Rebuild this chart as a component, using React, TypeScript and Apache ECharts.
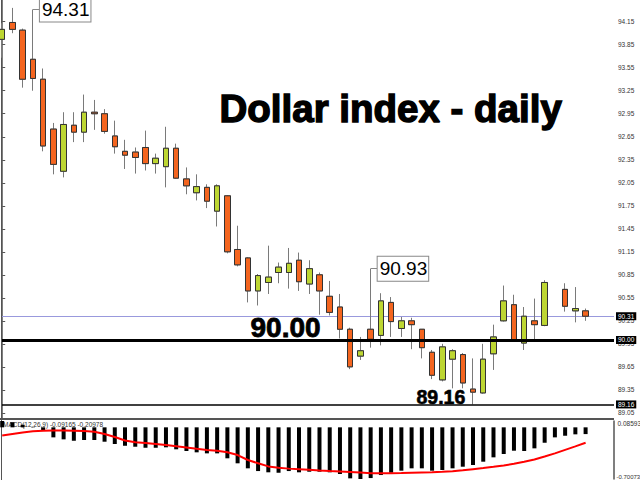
import React, { useEffect, useRef } from "react";
import * as echarts from "echarts";

// Daily candles (index = trading day slot)
const OPEN = [93.92, 94.14, 94.04, 93.66, 93.40, 92.75, 92.20, 92.80, 92.71, 92.97, 92.95, 92.66, 92.46, 92.45, 92.51, 92.30, 92.26, 92.50, 92.10, 91.92, 91.99, 91.68, 91.88, 91.18, 91.07, 90.64, 90.75, 90.88, 90.88, 91.04, 90.73, 90.85, 90.57, 90.43, 90.14, 89.79, 90.14, 90.06, 90.49, 90.15, 90.25, 90.14, 89.84, 89.48, 89.75, 89.81, 89.36, 89.31, 89.82, 90.25, 90.46, 89.96, 90.25, 90.19, null, 90.66, 90.38, 90.38];
const CLOSE = [94.05, 94.05, 93.40, 93.41, 92.53, 92.29, 92.81, 92.71, 92.97, 92.95, 92.72, 92.52, 92.41, 92.38, 92.30, 92.37, 92.50, 92.11, 92.01, 92.00, 91.81, 92.01, 91.15, 90.98, 90.64, 90.84, 90.82, 90.95, 91.00, 90.76, 90.93, 90.64, 90.36, 90.14, 89.65, 89.86, 90.01, 90.51, 90.24, 90.25, 90.20, 89.90, 89.54, 89.91, 89.86, 89.44, 89.32, 89.75, 90.04, 90.51, 90.00, 90.31, 90.20, 90.75, null, 90.44, 90.41, 90.31];
const LOW = [93.68, 94.00, 93.29, 93.25, 92.46, 92.16, 92.12, 92.58, 92.58, 92.74, 92.69, 92.43, 92.23, 92.17, 92.21, 92.17, 91.99, 92.10, 91.90, 91.82, 91.72, 91.48, 91.13, 90.96, 90.49, 90.45, 90.60, 90.74, 90.67, 90.64, 90.60, 90.33, 90.32, 90.02, 89.62, 89.74, 89.90, 89.93, 90.04, 90.04, 89.88, 89.76, 89.49, 89.46, 89.37, 89.37, 89.16, 89.30, 89.61, 90.24, 89.99, 89.87, 90.01, 90.18, null, 90.37, 90.23, 90.25];
const HIGH = [94.13, 94.33, 94.06, 94.31, 93.54, 92.83, 92.97, 92.97, 93.20, 93.13, 93.01, 92.86, 92.61, 92.51, 92.73, 92.43, 92.78, 92.56, 92.25, 92.16, 92.03, 92.03, 91.89, 91.49, 91.08, 90.86, 91.23, 91.01, 91.20, 91.14, 91.04, 90.88, 90.77, 90.60, 90.16, 90.04, 90.93, 90.61, 90.56, 90.30, 90.29, 90.14, 89.87, 89.95, 89.88, 89.83, 89.76, 89.95, 90.20, 90.71, 90.59, 90.43, 90.54, 90.78, null, 90.74, 90.69, 90.41];

// MACD(12,26,9)
const MACD_HIST = [0.08593, 0.07, 0.035, 0.004, -0.037, -0.136, -0.163, -0.182, -0.172, -0.172, -0.195, -0.226, -0.25, -0.263, -0.277, -0.277, -0.271, -0.298, -0.321, -0.339, -0.353, -0.353, -0.42, -0.488, -0.556, -0.593, -0.61, -0.616, -0.593, -0.61, -0.602, -0.602, -0.61, -0.633, -0.692, -0.70073, -0.688, -0.647, -0.616, -0.588, -0.556, -0.556, -0.588, -0.579, -0.556, -0.534, -0.511, -0.466, -0.407, -0.362, -0.317, -0.321, -0.285, -0.209, -0.136, -0.114, -0.095, -0.09165];
const MACD_SIGNAL = [-0.111, -0.091, -0.071, -0.054, -0.046, -0.043, -0.043, -0.045, -0.049, -0.06, -0.091, -0.132, -0.179, -0.202, -0.213, -0.226, -0.24, -0.256, -0.274, -0.292, -0.308, -0.317, -0.338, -0.376, -0.443, -0.488, -0.53, -0.549, -0.56, -0.568, -0.576, -0.585, -0.593, -0.599, -0.606, -0.614, -0.623, -0.624, -0.624, -0.621, -0.617, -0.613, -0.609, -0.604, -0.595, -0.583, -0.568, -0.553, -0.536, -0.517, -0.495, -0.468, -0.437, -0.396, -0.353, -0.305, -0.258, -0.20978];

// Axis ticks
const PRICE_TICKS = [89.05, 89.35, 89.65, 89.95, 90.25, 90.55, 90.85, 91.15, 91.45, 91.75, 92.05, 92.35, 92.65, 92.95, 93.25, 93.55, 93.85, 94.15, 94.45];
const MACD_TICKS = [0.08593, -0.70073];

// Levels and annotations
const BID = 90.31;
const LEVEL_SUPPORT = 90.0;
const LEVEL_LOW = 89.16;
const HIGH_MARKS = [
  { i: 3, v: 94.31 },
  { i: 36, v: 90.93 },
];
const TITLE = "Dollar index - daily";

const PRICE_MIN = 88.983;
const PRICE_MAX = 94.433;
const X_MIN = -0.02;
const X_MAX = 59.775;

const GREEN = "#bdd632";
const ORANGE = "#f4651f";
const FONT = "Liberation Sans, Arial, sans-serif";

export default function App() {
  const ref = useRef<HTMLDivElement>(null);
  useEffect(() => {
    const chart = echarts.init(ref.current!, null, { renderer: "svg" });
    const idx = OPEN.map((_, i) => i).filter((i) => OPEN[i] != null);
    const full = idx.map((i) => [i, OPEN[i], CLOSE[i], LOW[i], HIGH[i]]);
    const bodies = idx.map((i) => [
      i,
      OPEN[i],
      CLOSE[i],
      Math.min(OPEN[i] as number, CLOSE[i] as number),
      Math.max(OPEN[i] as number, CLOSE[i] as number),
    ]);
    const hist = MACD_HIST.map((v, i) => [i, v]);
    const signal = MACD_SIGNAL.map((v, i) => [i, v]);

    const boxLabel = {
      show: true,
      position: "end",
      distance: 2,
      formatter: (p: any) => Number(p.value).toFixed(2),
      backgroundColor: "#000",
      color: "#fff",
      fontSize: 6.5,
      fontFamily: FONT,
      padding: [1, 2, 0, 2],
    };

    const option: any = {
      animation: false,
      backgroundColor: "#fff",
      textStyle: { fontFamily: FONT },
      grid: [
        { left: 2, top: 0, width: 612, height: 418 },
        { left: 2, top: 421, width: 612, height: 58 },
      ],
      xAxis: [
        { type: "value", gridIndex: 0, min: X_MIN, max: X_MAX, show: false },
        { type: "value", gridIndex: 1, min: X_MIN, max: X_MAX, show: false },
      ],
      yAxis: [
        {
          type: "value",
          gridIndex: 0,
          position: "right",
          min: PRICE_MIN,
          max: PRICE_MAX,
          splitLine: { show: false },
          axisLine: { show: true, lineStyle: { color: "#555", width: 1.5 } },
          axisTick: { show: true, customValues: PRICE_TICKS, length: 3, lineStyle: { color: "#555" } },
          axisLabel: {
            customValues: PRICE_TICKS,
            formatter: (v: number) => v.toFixed(2),
            fontSize: 6.5,
            color: "#333",
            margin: 4,
            fontFamily: FONT,
          },
        },
        {
          type: "value",
          gridIndex: 1,
          position: "right",
          min: MACD_TICKS[1],
          max: MACD_TICKS[0],
          splitLine: { show: false },
          axisLine: { show: true, onZero: false, lineStyle: { color: "#555", width: 1.5 } },
          axisTick: { show: false },
          axisLabel: { show: false },
        },
      ],
      series: [
        {
          type: "candlestick",
          xAxisIndex: 0,
          yAxisIndex: 0,
          barWidth: 6,
          data: full,
          z: 2,
          itemStyle: {
            color: "rgba(0,0,0,0)",
            color0: "rgba(0,0,0,0)",
            borderColor: "#7a7a7a",
            borderColor0: "#7a7a7a",
            borderWidth: 1,
          },
          markLine: {
            z: 1,
            symbol: ["none", "none"],
            silent: true,
            data: [{ yAxis: BID, lineStyle: { color: "#9999dd", width: 1, type: "solid" }, label: boxLabel }],
          },
        },
        {
          type: "candlestick",
          xAxisIndex: 0,
          yAxisIndex: 0,
          barWidth: 6,
          data: bodies,
          z: 3,
          itemStyle: {
            color: GREEN,
            color0: ORANGE,
            borderColor: "#333",
            borderColor0: "#333",
            borderWidth: 1,
          },
          markLine: {
            symbol: ["none", "none"],
            silent: true,
            data: [
              { yAxis: LEVEL_SUPPORT, lineStyle: { color: "#000", width: 3, type: "solid" }, label: boxLabel },
              { yAxis: LEVEL_LOW, lineStyle: { color: "#000", width: 1.5, type: "solid" }, label: boxLabel },
              ...HIGH_MARKS.map((m) => [
                { coord: [m.i, m.v], lineStyle: { color: "#888", width: 1, type: "solid" }, label: { show: false } },
                { coord: [m.i + 0.66, m.v] },
              ]),
            ],
          },
          markPoint: {
            symbol: "rect",
            symbolSize: 1,
            itemStyle: { color: "rgba(0,0,0,0)" },
            data: HIGH_MARKS.map((m) => ({ coord: [m.i, m.v], value: m.v })),
            label: {
              show: true,
              position: "right",
              distance: 6.5,
              formatter: (p: any) => Number(p.value).toFixed(2),
              color: "#000",
              fontSize: 19,
              fontFamily: FONT,
              lineHeight: 21,
              backgroundColor: "#fff",
              borderColor: "#888",
              borderWidth: 1,
              padding: [2, 1, 1, 2],
            },
          },
        },
        {
          type: "bar",
          xAxisIndex: 1,
          yAxisIndex: 1,
          barWidth: 4,
          data: hist,
          itemStyle: { color: "#000" },
          markLine: {
            symbol: ["none", "none"],
            silent: true,
            data: [
              {
                yAxis: 0,
                lineStyle: { opacity: 0 },
                label: { ...boxLabel, formatter: () => "0.00" },
              },
            ],
          },
        },
        {
          type: "line",
          xAxisIndex: 1,
          yAxisIndex: 1,
          data: signal,
          symbol: "none",
          lineStyle: { color: "#ff0000", width: 2 },
          z: 4,
        },
      ],
      graphic: [
        { type: "line", shape: { x1: 1.5, y1: 0, x2: 1.5, y2: 480 }, style: { stroke: "#555", lineWidth: 1 } },
        { type: "rect", shape: { x: 0, y: 418, width: 614, height: 2 }, style: { fill: "#555" } },
        {
          type: "text",
          x: 219.5,
          y: 108.5,
          style: {
            text: TITLE,
            font: `bold 38.5px ${FONT}`,
            fill: "#000",
            stroke: "#000",
            lineWidth: 1.4,
            verticalAlign: "middle",
          },
        },
        {
          type: "text",
          x: 250.5,
          y: 327,
          style: {
            text: LEVEL_SUPPORT.toFixed(2),
            font: `bold 28px ${FONT}`,
            fill: "#000",
            stroke: "#000",
            lineWidth: 0.8,
            verticalAlign: "middle",
          },
        },
        {
          type: "text",
          x: 416.5,
          y: 396.5,
          style: {
            text: LEVEL_LOW.toFixed(2),
            font: `bold 19.5px ${FONT}`,
            fill: "#000",
            stroke: "#000",
            lineWidth: 0.6,
            verticalAlign: "middle",
          },
        },
        {
          type: "text",
          x: 3,
          y: 424.4,
          style: {
            text: `MACD(12,26,9) ${MACD_HIST[MACD_HIST.length - 1].toFixed(5)} ${MACD_SIGNAL[MACD_SIGNAL.length - 1].toFixed(5)}`,
            font: `6.5px ${FONT}`,
            fill: "#333",
            verticalAlign: "middle",
          },
        },
        {
          type: "text",
          x: 617.5,
          y: 423.5,
          style: { text: MACD_TICKS[0].toFixed(5), font: `6.5px ${FONT}`, fill: "#333", verticalAlign: "middle" },
        },
        {
          type: "text",
          x: 616.5,
          y: 477,
          style: { text: MACD_TICKS[1].toFixed(5), font: `6px ${FONT}`, fill: "#333", verticalAlign: "middle" },
        },
      ],
    };
    chart.setOption(option);
    return () => chart.dispose();
  }, []);
  return (
    <div
      ref={ref}
      style={{ position: "fixed", left: 0, top: 0, width: 640, height: 480, background: "#fff" }}
    />
  );
}
